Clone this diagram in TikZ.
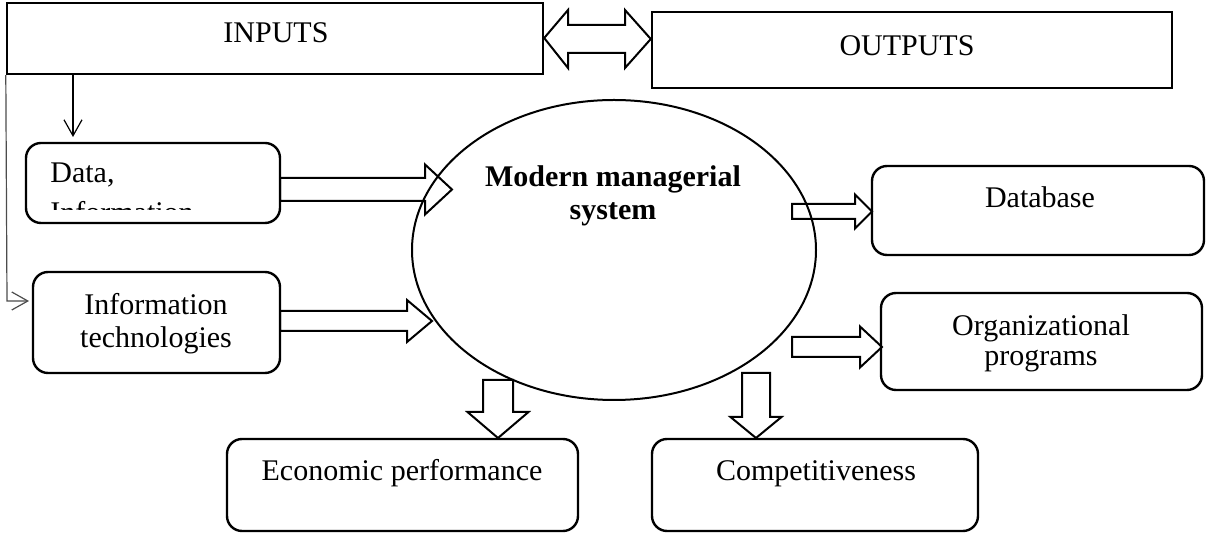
\documentclass[tikz,border=0pt]{standalone}
\usepackage{fontspec}
\setmainfont{Liberation Serif}
\usetikzlibrary{arrows.meta,fit,shapes.geometric,calc}

% horizontal block arrow: tail x, head start x, tip x, centre y, shaft half width, head half width
\newcommand\hblockarrow[6]{%
  \draw[blockarrow] (#1,#4-#5) -- (#2,#4-#5) -- (#2,#4-#6) -- (#3,#4)
    -- (#2,#4+#6) -- (#2,#4+#5) -- (#1,#4+#5) -- cycle;}
% vertical block arrow: tail y, head start y, tip y, centre x, shaft half width, head half width
\newcommand\vblockarrow[6]{%
  \draw[blockarrow] (#4-#5,#1) -- (#4-#5,#2) -- (#4-#6,#2) -- (#4,#3)
    -- (#4+#6,#2) -- (#4+#5,#2) -- (#4+#5,#1) -- cycle;}

\begin{document}
\begin{tikzpicture}[x=0.5pt,y=-0.5pt,
  box/.style={draw, line width=1.2pt, inner sep=0pt},
  rbox/.style={box, rounded corners=7.5pt},
  lbl/.style={font=\fontsize{15}{16.5}\selectfont, inner sep=0pt, anchor=base},
  blockarrow/.style={draw, line width=1pt, line join=miter},
  thinarrow/.style={line width=0.6pt, -{Straight Barb[length=8pt,width=9pt]}}]

\useasboundingbox (0,0) rectangle (1206,533);

% boxes
\node[box,  fit={(7,3) (543,74)}]      (inputs)  {};
\node[box,  fit={(652,12) (1172,88)}]  (outputs) {};
\node[rbox, fit={(26,143) (280,223)}]  (data)    {};
\node[rbox, fit={(33,272) (280,373)}]  (infotech){};
\node[rbox, fit={(872,166) (1204,255)}](database){};
\node[rbox, fit={(881,293) (1202,390)}](org)     {};
\node[rbox, fit={(227,439) (578,531)}] (econ)    {};
\node[rbox, fit={(652,439) (978,531)}] (comp)    {};

% central system
\node[draw, ellipse, line width=1pt, minimum width=202pt, minimum height=150pt,
      inner sep=0pt] (sys) at (614,250) {};

% labels
\node[lbl] (tin)  at (276,43)  {INPUTS};
\node[lbl] (tout) at (907,56)  {OUTPUTS};
\begin{scope}
  \clip (26,143) rectangle (280,210);
  \node[lbl, anchor=base west] (tdata1) at (50,183) {Data,};
  \node[lbl, anchor=base west] (tdata2) at (50,223) {Information};
\end{scope}
\node[lbl] (tit1) at (156,315) {Information};
\node[lbl] (tit2) at (156,348) {technologies};
\node[lbl, font=\fontsize{15}{16.5}\selectfont\bfseries] (tsys1) at (613,187) {Modern managerial};
\node[lbl, font=\fontsize{15}{16.5}\selectfont\bfseries] (tsys2) at (613,220) {system};
\node[lbl] (tdb)   at (1040,208) {Database};
\node[lbl] (torg1) at (1041,336) {Organizational};
\node[lbl] (torg2) at (1041,366) {programs};
\node[lbl] (tecon) at (402,481)  {Economic performance};
\node[lbl] (tcomp) at (816,481)  {Competitiveness};

% two-way link between inputs and outputs
\draw[blockarrow] (inputs.east |- 0,38) -- (568,10) -- (568,25) -- (625,25) -- (625,10)
  -- (outputs.west |- 0,39) -- (625,68) -- (625,53) -- (568,53) -- (568,68) -- cycle;

% thin connectors from the inputs
\coordinate (dtop) at (73,137);
\coordinate (itleft) at (29,301);
\draw[thinarrow] (inputs.south west -| dtop) -- (dtop);
\draw[thinarrow, draw=black!70] (inputs.south west) -- (7,301) -- (itleft);

% block arrows into and out of the system
\hblockarrow{280}{425}{452}{189.5}{11.5}{25}
\hblockarrow{280}{407}{432}{321}{10}{21}
\hblockarrow{792}{855}{872}{211.5}{7.5}{17}
\hblockarrow{792}{860}{882}{347}{10}{20.5}
\vblockarrow{380}{412}{438}{498}{15}{30.5}
\vblockarrow{373}{417}{438}{756}{14}{25.5}
\end{tikzpicture}
\end{document}
